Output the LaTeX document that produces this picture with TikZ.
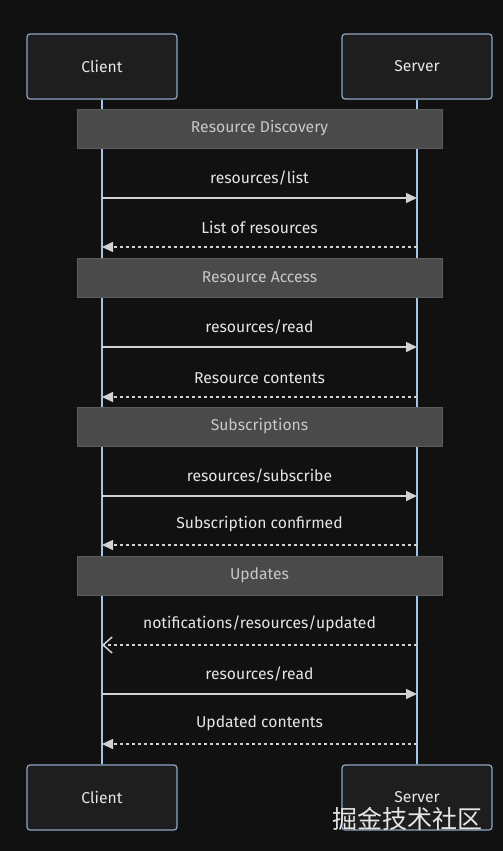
\documentclass[tikz,border=0pt]{standalone}
\usepackage{fontspec}
\setmainfont{Fira Sans}
\newfontfamily\cjk{Noto Sans CJK SC}
\usetikzlibrary{arrows.meta}
\definecolor{bg}{HTML}{111111}
\definecolor{boxfill}{HTML}{1E1E1E}
\definecolor{boxline}{HTML}{8DA6C2}
\definecolor{lifec}{HTML}{A3C6E8}
\definecolor{notefill}{HTML}{4A4A4A}
\definecolor{noteline}{HTML}{5C5C5C}
\definecolor{notetext}{HTML}{C8C8C8}
\definecolor{msgc}{HTML}{D2D2D2}
\definecolor{txt}{HTML}{E6E6E6}
\tikzset{
  actor/.style={draw=boxline, fill=boxfill, line width=1.2pt, rounded corners=3pt,
    minimum width=150pt, minimum height=65pt, text=txt, font=\fontsize{15.7}{18}\selectfont},
  life/.style={draw=lifec, line width=1.3pt},
  notebar/.style={draw=noteline, fill=notefill, line width=1pt, minimum width=365pt,
    minimum height=39pt, text=notetext, font=\fontsize{15.7}{18}\selectfont},
  msg/.style={draw=msgc, line width=1.5pt, -{Triangle[length=11pt,width=10pt]}},
  reply/.style={draw=msgc, line width=1.5pt, dash pattern=on 3pt off 3pt, -{Triangle[length=11pt,width=10pt]}},
  replyopen/.style={draw=msgc, line width=1.5pt, dash pattern=on 3pt off 3pt, -{Straight Barb[length=9pt,width=16pt,line width=1.5pt]}},
  lbl/.style={text=txt, font=\fontsize{15.7}{18}\selectfont},
}
\begin{document}
\begin{tikzpicture}[x=1pt,y=-1pt]
\fill[bg] (0,0) rectangle (503,851);
\useasboundingbox (0,0) rectangle (503,851);
% actors
\node[actor] (ct) at (102,66.5) {Client};
\node[actor] (st) at (417,66.5) {Server};
\node[actor] (cb) at (102,797.5) {Client};
\node[actor] (sb) at (417,797.5) {Server};
% lifelines
\draw[life] (ct.south) -- (cb.north);
\draw[life] (st.south) -- (sb.north);
% notes
\node[notebar] (n1) at (259.5,128.5) {Resource Discovery};
\node[notebar] (n2) at (259.5,277.5) {Resource Access};
\node[notebar] (n3) at (259.5,426.5) {Subscriptions};
\node[notebar] (n4) at (259.5,575.5) {Updates};
% message anchor points on lifelines
\foreach \i/\y in {1/198,2/247,3/347,4/397,5/496,6/545,7/645,8/694,9/744}{
  \coordinate (c\i) at (102,\y);
  \coordinate (s\i) at (417,\y);
}
\draw[msg] (c1) -- (s1) node[lbl, pos=0.5, above=9pt] {resources/list};
\draw[reply] (s2) -- (c2) node[lbl, pos=0.5, above=9pt] {List of resources};
\draw[msg] (c3) -- (s3) node[lbl, pos=0.5, above=9pt] {resources/read};
\draw[reply] (s4) -- (c4) node[lbl, pos=0.5, above=9pt] {Resource contents};
\draw[msg] (c5) -- (s5) node[lbl, pos=0.5, above=9pt] {resources/subscribe};
\draw[reply] (s6) -- (c6) node[lbl, pos=0.5, above=9pt] {Subscription confirmed};
\draw[replyopen] (s7) -- (c7) node[lbl, pos=0.5, above=9pt] {notifications/resources/updated};
\draw[msg] (c8) -- (s8) node[lbl, pos=0.5, above=9pt] {resources/read};
\draw[reply] (s9) -- (c9) node[lbl, pos=0.5, above=9pt] {Updated contents};
% watermark
\node[text=txt, font=\cjk\fontsize{25}{28}\selectfont, anchor=center] (wm) at (407.5,819) {掘金技术社区};
\end{tikzpicture}
\end{document}
